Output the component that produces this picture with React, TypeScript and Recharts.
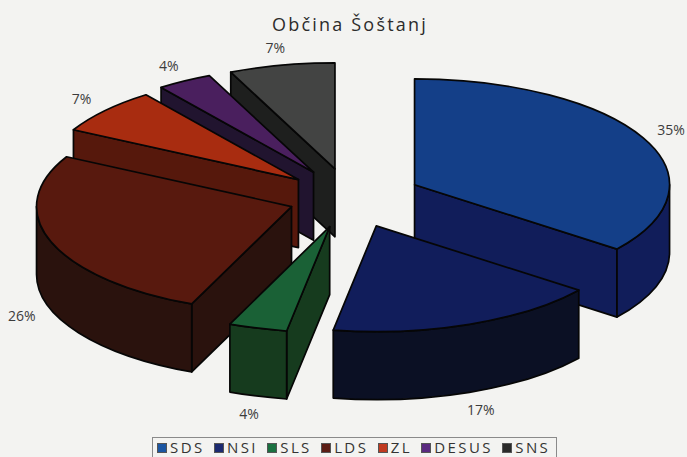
import React from 'react';
import { PieChart, Pie, Legend } from 'recharts';

const parties = ['SDS', 'NSI', 'SLS', 'LDS', 'ZL', 'DESUS', 'SNS'];
const shares = [35.4, 17.3, 3.7, 26.4, 7.0, 3.5, 6.7];
const topColors = ['#143f88', '#111d5b', '#1a6136', '#58190e', '#a82c10', '#4a1f5e', '#434443'];
const wallColors = ['#111d5a', '#0b1024', '#163b1e', '#2a120d', '#56180c', '#21142f', '#1e1f1e'];
const legendColors = ['#1c56a2', '#1c2a70', '#1a7040', '#5c1d15', '#c03a20', '#5a2a80', '#2a2a2a'];

// back to front, the picture is an old excel 3d pie so paint order matters
const paintOrder = ['SNS', 'DESUS', 'ZL', 'LDS', 'SDS', 'SLS', 'NSI'];

const data = parties.map((party, i) => ({ party, share: shares[i] }));

const TILT = 0.415;
const DEPTH = 68;
const RAD = Math.PI / 180;
const LABEL_GAP = 286;
const LABEL_TILT = 0.43;

// how far each slice was pulled out of the pie
const explodeOf = (party: string) => {
  if (party === 'LDS') return 62;
  if (party === 'ZL') return 68;
  return 72;
};

const renderSlice = (props: any, only: string) => {
  const party = props.party ?? props.payload?.party;
  if (party !== only) return <g />;
  const i = parties.indexOf(party);
  const { cx, cy, outerRadius: r, startAngle, endAngle } = props;
  const mid = (startAngle + endAngle) / 2;
  const explode = explodeOf(party);
  const px = cx + explode * Math.cos(mid * RAD);
  const py = cy - explode * TILT * Math.sin(mid * RAD);
  const at = (a: number) => [px + r * Math.cos(a * RAD), py - r * TILT * Math.sin(a * RAD)];
  const [ax, ay] = at(startAngle);
  const [bx, by] = at(endAngle);
  const ry = r * TILT;
  const line = { stroke: '#060606', strokeWidth: 1.7, strokeLinejoin: 'round' as const };

  const wall = (x: number, y: number) =>
    `M${px},${py} L${x},${y} L${x},${y + DEPTH} L${px},${py + DEPTH} Z`;

  const rimFrom = Math.min(startAngle, 0);
  const rimTo = Math.max(endAngle, -180);
  let rim = null;
  if (rimFrom > rimTo) {
    const [x1, y1] = at(rimFrom);
    const [x2, y2] = at(rimTo);
    rim = `M${x1},${y1} A${r},${ry} 0 0 1 ${x2},${y2} L${x2},${y2 + DEPTH} A${r},${ry} 0 0 0 ${x1},${y1 + DEPTH} Z`;
  }

  return (
    <g>
      {bx > px && <path d={wall(bx, by)} fill={wallColors[i]} {...line} />}
      {ax < px && <path d={wall(ax, ay)} fill={wallColors[i]} {...line} />}
      {rim && <path d={rim} fill={wallColors[i]} {...line} />}
      <path
        d={`M${px},${py} L${ax},${ay} A${r},${ry} 0 0 1 ${bx},${by} Z`}
        fill={topColors[i]}
        {...line}
      />
    </g>
  );
};

const renderLabel = (props: any) => {
  const { cx, cy, midAngle, value, index } = props;
  const below = Math.sin(midAngle * RAD) < 0;
  const radius = LABEL_GAP + explodeOf(parties[index]);
  const x = cx + radius * Math.cos(midAngle * RAD);
  const y = cy - radius * LABEL_TILT * Math.sin(midAngle * RAD) + (below ? DEPTH : 0);
  return (
    <text
      key={index}
      x={x}
      y={y}
      textAnchor="middle"
      dominantBaseline="central"
      fontSize={14}
      fill="#3c3c3c"
      fontFamily="'Open Sans', sans-serif"
    >
      {Math.round(value)}%
    </text>
  );
};

const LegendBox = () => (
  <div
    style={{
      display: 'flex',
      boxSizing: 'border-box',
      width: 405,
      height: 30,
      border: '1px solid #8a8a8a',
      paddingLeft: 4,
      alignItems: 'flex-start',
      fontFamily: "'Open Sans', sans-serif",
      fontSize: 15,
      lineHeight: '19px',
      letterSpacing: 2.4,
      color: '#333',
    }}
  >
    {parties.map((party, i) => (
      <span key={party} style={{ display: 'flex', alignItems: 'center', marginRight: 9.4 }}>
        <span
          style={{ width: 10, height: 10, marginRight: 3, background: legendColors[i], border: '1px solid #555', boxSizing: 'border-box' }}
        />
        {party}
      </span>
    ))}
  </div>
);

export default function App() {
  return (
    <div style={{ position: 'fixed', left: 0, top: 0, width: 687, height: 457, background: '#f3f3f1', overflow: 'hidden' }}>
      <PieChart width={687} height={457} margin={{ top: 0, right: 0, bottom: 0, left: 0 }}>
        <text
          x={350}
          y={31}
          textAnchor="middle"
          fontSize={18}
          letterSpacing={2.2}
          fill="#2c2c2c"
          fontFamily="'Open Sans', sans-serif"
        >
          Občina Šoštanj
        </text>
        {paintOrder.map((name, layer) => (
          <Pie
            key={name}
            data={data}
            dataKey="share"
            nameKey="party"
            cx={350}
            cy={198}
            outerRadius={255}
            startAngle={90}
            endAngle={-270}
            stroke="none"
            isAnimationActive={false}
            shape={(props: any) => renderSlice(props, name)}
            label={layer === paintOrder.length - 1 ? renderLabel : false}
            labelLine={false}
          />
        ))}
        <Legend
          content={<LegendBox />}
          wrapperStyle={{ left: 152, top: 437, width: 405, bottom: 'auto' }}
        />
      </PieChart>
    </div>
  );
}
